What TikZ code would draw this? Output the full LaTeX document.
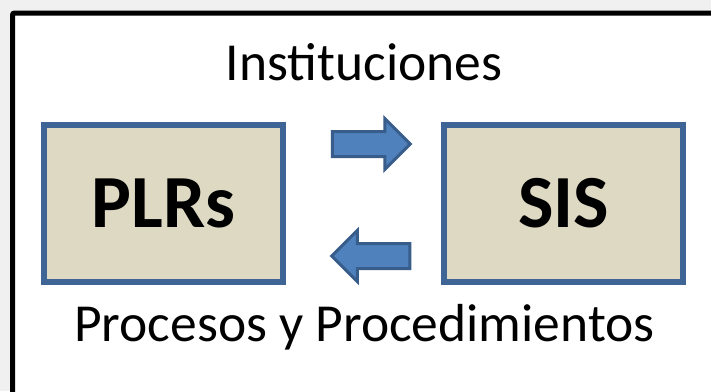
\documentclass[tikz,border=0pt]{standalone}
\usepackage{fontspec}
\setmainfont{Carlito}
\usetikzlibrary{positioning}
\usetikzlibrary{shapes.arrows}
\definecolor{boxfill}{HTML}{DDD9C3}
\definecolor{boxline}{HTML}{3F6496}
\definecolor{arrfill}{HTML}{4F81BD}
\definecolor{arrline}{HTML}{385D8A}
\definecolor{pagegray}{HTML}{F0F0F0}
\tikzset{
	every node/.style={outer sep=0pt},
	block/.style={rectangle, draw=boxline, fill=boxfill, line width=5.5pt, minimum width=239pt, minimum height=157pt, font=\fontsize{75}{78}\selectfont\bfseries},
	blockarrow/.style={single arrow, draw=arrline, fill=arrfill, line width=3pt, inner sep=0pt, text height=0pt, text depth=0pt, inner ysep=11pt, minimum height=78pt, single arrow head extend=13pt, single arrow head indent=0pt},
	caption/.style={font=\fontsize{53.5}{56}\selectfont, inner sep=0pt}
}

\begin{document}
\begin{tikzpicture}[x=1pt,y=-1pt]
	% page and frame
	\fill[pagegray] (0,0) rectangle (711,391);
	\useasboundingbox (0,0) rectangle (711,391);
	\begin{scope}
		\clip (0,0) rectangle (711,391);
		\draw[line width=5pt, fill=white, rounded corners=2pt] (12.5,13) rectangle (730,410);
	\end{scope}
	
	\node (plr) [block] at (163.5,203.5) {PLRs};
	\node (sis) [block] at (563.5,203.5) {SIS};
	
	\node (inst) [caption, anchor=base] at (364,80) {Instituciones};
	\node (proc) [caption, anchor=base] at (364.5,341) {Procesos y Procedimientos};
	
	\node (ida) [blockarrow] at (365,144) {};
	\node (vuelta) [blockarrow, shape border rotate=180] at (377,256) {};
\end{tikzpicture}
\end{document}
